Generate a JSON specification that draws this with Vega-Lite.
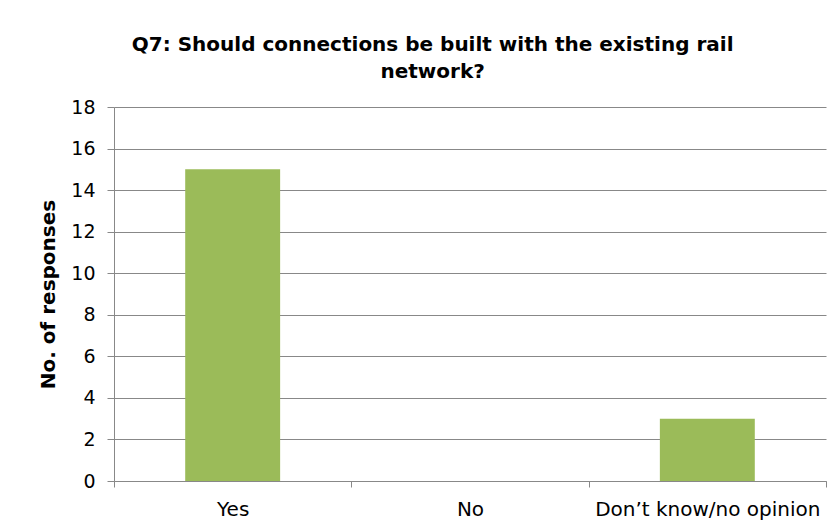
{
  "$schema": "https://vega.github.io/schema/vega-lite/v6.json",
  "width": 712,
  "height": 374,
  "autosize": {"type": "none"},
  "padding": {"left": 114, "top": 107, "right": 11, "bottom": 49},
  "background": "white",
  "title": {
    "text": ["Q7: Should connections be built with the existing rail", "network?"],
    "font": "DejaVu Sans",
    "fontSize": 20,
    "fontWeight": "bold",
    "color": "#000000",
    "anchor": "middle",
    "frame": "bounds",
    "offset": 16,
    "lineHeight": 27
  },
  "data": {
    "values": [
      {"answer": "Yes", "count": 15},
      {"answer": "No", "count": 0},
      {"answer": "Don’t know/no opinion", "count": 3}
    ]
  },
  "mark": {"type": "bar", "color": "#9BBB59", "width": {"band": 0.4}},
  "encoding": {
    "x": {
      "field": "answer",
      "type": "nominal",
      "sort": null,
      "scale": {"paddingInner": 0, "paddingOuter": 0},
      "axis": {
        "title": null,
        "labelAngle": 0,
        "labelLimit": 0,
        "tickBand": "extent",
        "labelFont": "DejaVu Sans",
        "labelFontSize": 20,
        "labelColor": "#000000",
        "labelPadding": 12,
        "tickSize": 6,
        "tickColor": "#888888",
        "domainColor": "#888888",
        "grid": false
      }
    },
    "y": {
      "field": "count",
      "type": "quantitative",
      "scale": {"domain": [0, 18], "nice": false},
      "axis": {
        "title": "No. of responses",
        "titleFont": "DejaVu Sans",
        "titleFontSize": 20,
        "titleFontWeight": "bold",
        "titleColor": "#000000",
        "titlePadding": 12,
        "values": [0, 2, 4, 6, 8, 10, 12, 14, 16, 18],
        "labelFont": "DejaVu Sans",
        "labelFontSize": 19,
        "labelColor": "#000000",
        "labelPadding": 12,
        "tickSize": 7,
        "tickColor": "#888888",
        "domainColor": "#888888",
        "gridColor": "#888888",
        "gridWidth": 1
      }
    }
  },
  "config": {"view": {"stroke": null}}
}
